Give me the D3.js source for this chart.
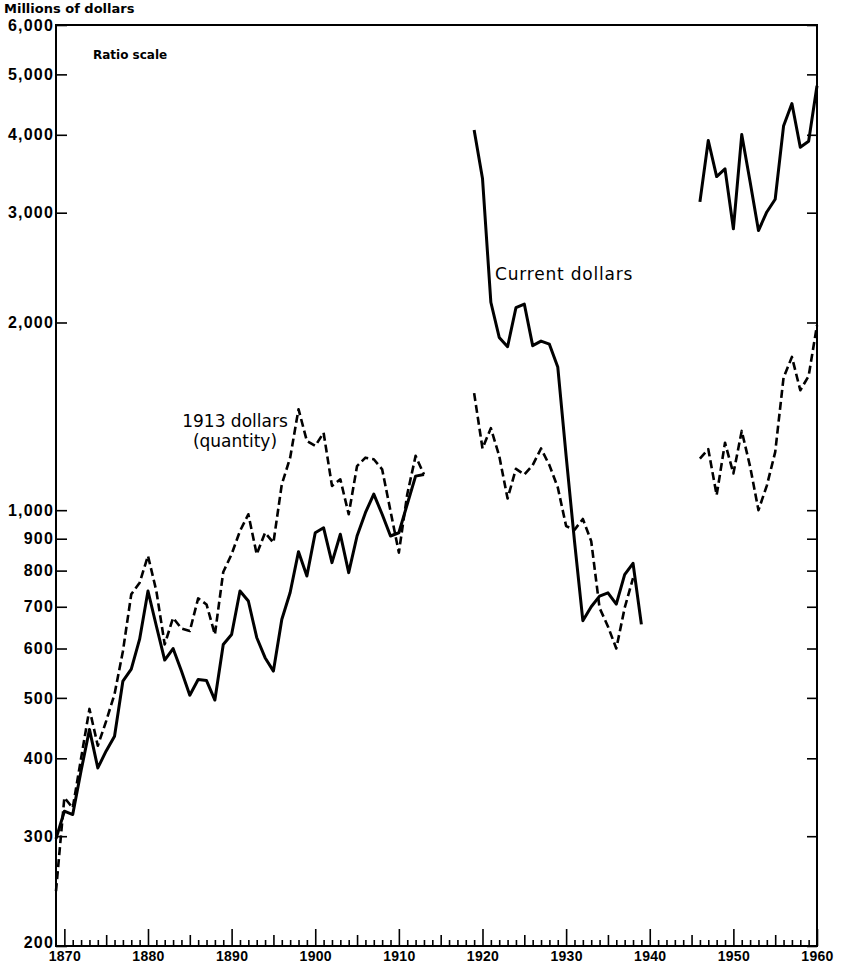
<!DOCTYPE html>
<meta charset="utf-8" />
<title>Millions of dollars, ratio scale</title>
<style>
  body {
    margin: 0;
    background: #fff;
  }
  svg {
    display: block;
    font-family: "DejaVu Sans", sans-serif;
  }
  .axis text {
    font-weight: bold;
    fill: #000;
  }
  .axis line {
    stroke: #000;
    stroke-width: 1.6px;
  }
  .axis path.domain {
    display: none;
  }
  path.series {
    fill: none;
    stroke: #000;
    stroke-width: 3px;
    stroke-linejoin: round;
  }
  path.series.real {
    stroke-width: 2.6px;
    stroke-dasharray: 8, 4;
  }
  .note {
    font-size: 17px;
    font-weight: 500;
  }
</style>

<body>
  <svg width="847" height="970"></svg>

  <script src="https://d3js.org/d3.v7.min.js"></script>
  <script>
    // 1869-1913
    const yearsA = [1869, 1870, 1871, 1872, 1873, 1874, 1875, 1876, 1877, 1878, 1879,
      1880, 1881, 1882, 1883, 1884, 1885, 1886, 1887, 1888, 1889,
      1890, 1891, 1892, 1893, 1894, 1895, 1896, 1897, 1898, 1899,
      1900, 1901, 1902, 1903, 1904, 1905, 1906, 1907, 1908, 1909,
      1910, 1911, 1912, 1913];
    const currentA = [297, 329, 325, 382, 445, 386, 411, 434, 532, 556, 621,
      742, 652, 575, 600, 552, 505, 535, 533, 496, 609,
      632, 742, 715, 625, 580, 552, 668, 738, 858, 784,
      920, 937, 824, 915, 794, 909, 991, 1061, 985, 909,
      920, 1022, 1134, 1141];
    const realA = [245, 346, 333, 400, 480, 419, 459, 507, 594, 733, 765,
      845, 742, 609, 672, 646, 640, 722, 706, 632, 796,
      850, 926, 985, 850, 920, 887, 1100, 1214, 1452, 1291,
      1268, 1331, 1094, 1121, 985, 1177, 1214, 1207, 1163, 997,
      855, 1060, 1222, 1141];

    // 1919-1939
    const yearsB = [1919, 1920, 1921, 1922, 1923, 1924, 1925, 1926, 1927, 1928, 1929,
      1930, 1931, 1932, 1933, 1934, 1935, 1936, 1937, 1938, 1939];
    const currentB = [4073, 3405, 2155, 1893, 1829, 2112, 2141, 1836, 1867, 1846, 1697,
      1222, 892, 665, 700, 728, 737, 707, 788, 822, 656];
    const realB = [1541, 1256, 1354, 1222, 1044, 1165, 1141, 1181, 1256, 1181, 1088,
      943, 930, 968, 892, 697, 651, 600, 697, 778, null];

    // 1946-1960
    const yearsC = [1946, 1947, 1948, 1949, 1950, 1951, 1952, 1953, 1954, 1955,
      1956, 1957, 1958, 1959, 1960];
    const currentC = [3122, 3917, 3428, 3527, 2827, 4004, 3364, 2809, 3008, 3153,
      4131, 4489, 3820, 3907, 4795];
    const realC = [1210, 1253, 1057, 1283, 1145, 1340, 1175, 1000, 1095, 1239,
      1631, 1761, 1557, 1641, 1980];

    const yTicks = [200, 300, 400, 500, 600, 700, 800, 900, 1000, 2000, 3000, 4000, 5000, 6000];
    const xLabels = [1870, 1880, 1890, 1900, 1910, 1920, 1930, 1940, 1950, 1960];

    const svg = d3.select("svg");
    const plotL = 56, plotR = 817, plotT = 25, plotB = 946;

    const x = d3.scaleLinear().domain([1869, 1960]).range([plotL, plotR]);
    const y = d3.scaleLog().domain([200, 6000]).range([plotB, plotT]);

    // frame
    svg.append("rect")
      .attr("x", plotL).attr("y", plotT)
      .attr("width", plotR - plotL).attr("height", plotB - plotT)
      .attr("fill", "none").attr("stroke", "#000").attr("stroke-width", 2);

    // left axis, ticks pointing inward
    const gy = svg.append("g")
      .attr("class", "axis")
      .attr("transform", `translate(${plotL},0)`)
      .call(d3.axisLeft(y).tickValues(yTicks).tickSizeInner(-11).tickSizeOuter(0)
        .tickPadding(2).tickFormat(d3.format(",")));
    gy.selectAll("text")
      .attr("font-size", 16)
      .attr("letter-spacing", 1.2);
    // lift the bottom label a little so it clears the year labels
    gy.selectAll(".tick text").filter(d => d === 200).attr("dy", "0.1em");

    // right axis ticks
    svg.append("g")
      .attr("class", "axis")
      .attr("transform", `translate(${plotR},0)`)
      .call(d3.axisRight(y).tickValues(yTicks).tickSizeInner(-10).tickSizeOuter(0)
        .tickFormat(""));

    // bottom axis: yearly ticks, longer at 5 and 10 years
    const gx = svg.append("g")
      .attr("class", "axis")
      .attr("transform", `translate(0,${plotB})`)
      .call(d3.axisBottom(x).tickValues(d3.range(1870, 1961)).tickSizeInner(-6)
        .tickSizeOuter(0).tickPadding(5)
        .tickFormat(d => xLabels.includes(d) ? d : ""));
    gx.selectAll(".tick line")
      .attr("y2", d => d % 10 === 0 ? -17 : d % 5 === 0 ? -11 : -6);
    gx.selectAll("text")
      .attr("font-size", 14)
      .attr("letter-spacing", 0.3);

    // series
    const line = d3.line()
      .defined(d => d.v != null)
      .x(d => x(d.t))
      .y(d => y(d.v));

    const segs = [
      [yearsA, currentA, "current"], [yearsA, realA, "real"],
      [yearsB, currentB, "current"], [yearsB, realB, "real"],
      [yearsC, currentC, "current"], [yearsC, realC, "real"]
    ];
    svg.append("g")
      .selectAll("path")
      .data(segs)
      .join("path")
      .attr("class", d => "series " + d[2])
      .attr("d", d => line(d[0].map((t, i) => ({ t: t, v: d[1][i] }))));

    // titles and labels
    svg.append("text")
      .attr("x", 4).attr("y", 13)
      .attr("font-size", 13).attr("font-weight", "bold")
      .text("Millions of dollars");

    svg.append("text")
      .attr("x", 93).attr("y", 59)
      .attr("font-size", 12).attr("font-weight", "bold")
      .text("Ratio scale");

    svg.append("text")
      .attr("class", "note")
      .attr("x", 235).attr("y", 427)
      .attr("text-anchor", "middle")
      .text("1913 dollars");
    svg.append("text")
      .attr("class", "note")
      .attr("x", 235).attr("y", 447)
      .attr("text-anchor", "middle")
      .text("(quantity)");

    svg.append("text")
      .attr("class", "note")
      .attr("x", 495).attr("y", 280)
      .attr("letter-spacing", 0.8)
      .text("Current dollars");
  </script>
</body>
